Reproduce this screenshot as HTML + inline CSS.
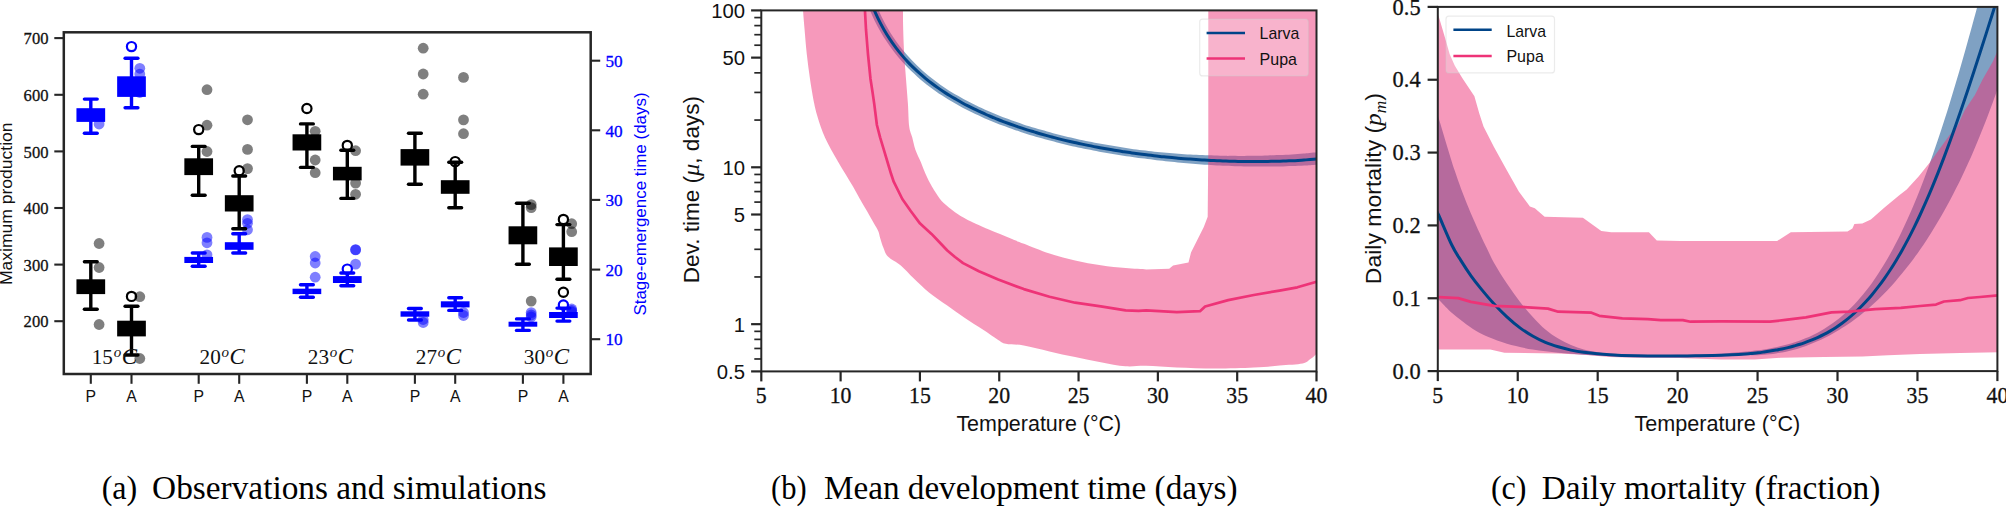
<!DOCTYPE html>
<html lang="en"><head><meta charset="utf-8"><title>Figure</title>
<style>html,body{margin:0;padding:0;background:#fff;overflow:hidden}svg{display:block}</style>
</head><body>
<svg width="2006" height="507" viewBox="0 0 2006 507" style="display:block">
<rect width="2006" height="507" fill="#fff"/>
<g id="panelA">
<circle cx="99.1" cy="243.5" r="5.4" fill="#000" fill-opacity="0.5"/>
<circle cx="99.1" cy="267.5" r="5.4" fill="#000" fill-opacity="0.5"/>
<circle cx="99.1" cy="324.5" r="5.4" fill="#000" fill-opacity="0.5"/>
<circle cx="139.8" cy="296.7" r="5.4" fill="#000" fill-opacity="0.5"/>
<circle cx="139.8" cy="358.5" r="5.4" fill="#000" fill-opacity="0.5"/>
<circle cx="207" cy="89.7" r="5.4" fill="#000" fill-opacity="0.5"/>
<circle cx="207" cy="125.2" r="5.4" fill="#000" fill-opacity="0.5"/>
<circle cx="207" cy="151.5" r="5.4" fill="#000" fill-opacity="0.5"/>
<circle cx="247.5" cy="119.8" r="5.4" fill="#000" fill-opacity="0.5"/>
<circle cx="247.5" cy="149.4" r="5.4" fill="#000" fill-opacity="0.5"/>
<circle cx="247.5" cy="168.6" r="5.4" fill="#000" fill-opacity="0.5"/>
<circle cx="315.2" cy="131.3" r="5.4" fill="#000" fill-opacity="0.5"/>
<circle cx="315.2" cy="160" r="5.4" fill="#000" fill-opacity="0.5"/>
<circle cx="315.2" cy="172.7" r="5.4" fill="#000" fill-opacity="0.5"/>
<circle cx="355.6" cy="150.7" r="5.4" fill="#000" fill-opacity="0.5"/>
<circle cx="355.6" cy="183.1" r="5.4" fill="#000" fill-opacity="0.5"/>
<circle cx="355.6" cy="194.3" r="5.4" fill="#000" fill-opacity="0.5"/>
<circle cx="423.2" cy="48.2" r="5.4" fill="#000" fill-opacity="0.5"/>
<circle cx="423.2" cy="74" r="5.4" fill="#000" fill-opacity="0.5"/>
<circle cx="423.2" cy="94.2" r="5.4" fill="#000" fill-opacity="0.5"/>
<circle cx="463.5" cy="77.4" r="5.4" fill="#000" fill-opacity="0.5"/>
<circle cx="463.5" cy="119.9" r="5.4" fill="#000" fill-opacity="0.5"/>
<circle cx="463.5" cy="133.7" r="5.4" fill="#000" fill-opacity="0.5"/>
<circle cx="531.2" cy="204.6" r="5.4" fill="#000" fill-opacity="0.5"/>
<circle cx="531.2" cy="207.6" r="5.4" fill="#000" fill-opacity="0.5"/>
<circle cx="571.7" cy="223.7" r="5.4" fill="#000" fill-opacity="0.5"/>
<circle cx="571.7" cy="231.7" r="5.4" fill="#000" fill-opacity="0.5"/>
<circle cx="99.1" cy="124" r="5.4" fill="#0000ff" fill-opacity="0.5"/>
<circle cx="139.8" cy="68.3" r="5.4" fill="#0000ff" fill-opacity="0.5"/>
<circle cx="139.8" cy="74.1" r="5.4" fill="#0000ff" fill-opacity="0.5"/>
<circle cx="139.8" cy="92.5" r="5.4" fill="#0000ff" fill-opacity="0.5"/>
<circle cx="207" cy="237.4" r="5.4" fill="#0000ff" fill-opacity="0.5"/>
<circle cx="207" cy="242.8" r="5.4" fill="#0000ff" fill-opacity="0.5"/>
<circle cx="207" cy="254.8" r="5.4" fill="#0000ff" fill-opacity="0.5"/>
<circle cx="247.5" cy="219.6" r="5.4" fill="#0000ff" fill-opacity="0.5"/>
<circle cx="247.5" cy="223.3" r="5.4" fill="#0000ff" fill-opacity="0.5"/>
<circle cx="247.5" cy="229.8" r="5.4" fill="#0000ff" fill-opacity="0.5"/>
<circle cx="315.2" cy="256.5" r="5.4" fill="#0000ff" fill-opacity="0.5"/>
<circle cx="315.2" cy="263" r="5.4" fill="#0000ff" fill-opacity="0.5"/>
<circle cx="315.2" cy="277.2" r="5.4" fill="#0000ff" fill-opacity="0.5"/>
<circle cx="355.6" cy="249.6" r="5.4" fill="#0000ff" fill-opacity="0.5"/>
<circle cx="355.6" cy="249.9" r="5.4" fill="#0000ff" fill-opacity="0.5"/>
<circle cx="355.6" cy="264.1" r="5.4" fill="#0000ff" fill-opacity="0.5"/>
<circle cx="423.2" cy="319.5" r="5.4" fill="#0000ff" fill-opacity="0.5"/>
<circle cx="423.2" cy="322.5" r="5.4" fill="#0000ff" fill-opacity="0.5"/>
<circle cx="463.5" cy="312.5" r="5.4" fill="#0000ff" fill-opacity="0.5"/>
<circle cx="463.5" cy="315.5" r="5.4" fill="#0000ff" fill-opacity="0.5"/>
<circle cx="531.2" cy="312.6" r="5.4" fill="#0000ff" fill-opacity="0.5"/>
<circle cx="531.2" cy="315" r="5.4" fill="#0000ff" fill-opacity="0.5"/>
<circle cx="531.2" cy="317" r="5.4" fill="#0000ff" fill-opacity="0.5"/>
<circle cx="571.7" cy="309" r="5.4" fill="#0000ff" fill-opacity="0.5"/>
<circle cx="571.7" cy="310.5" r="5.4" fill="#0000ff" fill-opacity="0.5"/>
<circle cx="571.7" cy="312" r="5.4" fill="#0000ff" fill-opacity="0.5"/>
<circle cx="531.2" cy="301.1" r="5.4" fill="#000" fill-opacity="0.5"/>
<line x1="90.8" y1="261.8" x2="90.8" y2="309.2" stroke="#000" stroke-width="3.4" stroke-linecap="butt" />
<line x1="84.4" y1="261.8" x2="97.2" y2="261.8" stroke="#000" stroke-width="3.4" stroke-linecap="round" />
<line x1="84.4" y1="309.2" x2="97.2" y2="309.2" stroke="#000" stroke-width="3.4" stroke-linecap="round" />
<rect x="76.45" y="279.3" width="28.7" height="14.8" fill="#000"/>
<line x1="131.5" y1="306.2" x2="131.5" y2="355" stroke="#000" stroke-width="3.4" stroke-linecap="butt" />
<line x1="125.1" y1="306.2" x2="137.9" y2="306.2" stroke="#000" stroke-width="3.4" stroke-linecap="round" />
<line x1="125.1" y1="355" x2="137.9" y2="355" stroke="#000" stroke-width="3.4" stroke-linecap="round" />
<rect x="117.15" y="320.7" width="28.7" height="15.7" fill="#000"/>
<line x1="198.7" y1="146.4" x2="198.7" y2="195.2" stroke="#000" stroke-width="3.4" stroke-linecap="butt" />
<line x1="192.3" y1="146.4" x2="205.1" y2="146.4" stroke="#000" stroke-width="3.4" stroke-linecap="round" />
<line x1="192.3" y1="195.2" x2="205.1" y2="195.2" stroke="#000" stroke-width="3.4" stroke-linecap="round" />
<rect x="184.35" y="158.3" width="28.7" height="16.8" fill="#000"/>
<line x1="239.2" y1="176" x2="239.2" y2="228.7" stroke="#000" stroke-width="3.4" stroke-linecap="butt" />
<line x1="232.8" y1="176" x2="245.6" y2="176" stroke="#000" stroke-width="3.4" stroke-linecap="round" />
<line x1="232.8" y1="228.7" x2="245.6" y2="228.7" stroke="#000" stroke-width="3.4" stroke-linecap="round" />
<rect x="224.85" y="195.2" width="28.7" height="16.3" fill="#000"/>
<line x1="306.9" y1="123.9" x2="306.9" y2="167.4" stroke="#000" stroke-width="3.4" stroke-linecap="butt" />
<line x1="300.5" y1="123.9" x2="313.3" y2="123.9" stroke="#000" stroke-width="3.4" stroke-linecap="round" />
<line x1="300.5" y1="167.4" x2="313.3" y2="167.4" stroke="#000" stroke-width="3.4" stroke-linecap="round" />
<rect x="292.55" y="134.3" width="28.7" height="16.2" fill="#000"/>
<line x1="347.3" y1="150.2" x2="347.3" y2="198.4" stroke="#000" stroke-width="3.4" stroke-linecap="butt" />
<line x1="340.9" y1="150.2" x2="353.7" y2="150.2" stroke="#000" stroke-width="3.4" stroke-linecap="round" />
<line x1="340.9" y1="198.4" x2="353.7" y2="198.4" stroke="#000" stroke-width="3.4" stroke-linecap="round" />
<rect x="332.95" y="166.8" width="28.7" height="13.6" fill="#000"/>
<line x1="414.9" y1="133.2" x2="414.9" y2="184.3" stroke="#000" stroke-width="3.4" stroke-linecap="butt" />
<line x1="408.5" y1="133.2" x2="421.3" y2="133.2" stroke="#000" stroke-width="3.4" stroke-linecap="round" />
<line x1="408.5" y1="184.3" x2="421.3" y2="184.3" stroke="#000" stroke-width="3.4" stroke-linecap="round" />
<rect x="400.55" y="149.1" width="28.7" height="16.5" fill="#000"/>
<line x1="455.2" y1="162.2" x2="455.2" y2="207.7" stroke="#000" stroke-width="3.4" stroke-linecap="butt" />
<line x1="448.8" y1="162.2" x2="461.6" y2="162.2" stroke="#000" stroke-width="3.4" stroke-linecap="round" />
<line x1="448.8" y1="207.7" x2="461.6" y2="207.7" stroke="#000" stroke-width="3.4" stroke-linecap="round" />
<rect x="440.85" y="180.2" width="28.7" height="13.6" fill="#000"/>
<line x1="522.9" y1="203.3" x2="522.9" y2="264.3" stroke="#000" stroke-width="3.4" stroke-linecap="butt" />
<line x1="516.5" y1="203.3" x2="529.3" y2="203.3" stroke="#000" stroke-width="3.4" stroke-linecap="round" />
<line x1="516.5" y1="264.3" x2="529.3" y2="264.3" stroke="#000" stroke-width="3.4" stroke-linecap="round" />
<rect x="508.55" y="226.3" width="28.7" height="18" fill="#000"/>
<line x1="563.4" y1="224.6" x2="563.4" y2="279.2" stroke="#000" stroke-width="3.4" stroke-linecap="butt" />
<line x1="557" y1="224.6" x2="569.8" y2="224.6" stroke="#000" stroke-width="3.4" stroke-linecap="round" />
<line x1="557" y1="279.2" x2="569.8" y2="279.2" stroke="#000" stroke-width="3.4" stroke-linecap="round" />
<rect x="549.05" y="247.4" width="28.7" height="18.6" fill="#000"/>
<circle cx="131.5" cy="296.4" r="4.6" fill="none" stroke="#000" stroke-width="2.2"/>
<circle cx="198.7" cy="129.6" r="4.6" fill="none" stroke="#000" stroke-width="2.2"/>
<circle cx="239.2" cy="170.7" r="4.6" fill="none" stroke="#000" stroke-width="2.2"/>
<circle cx="306.9" cy="108.5" r="4.6" fill="none" stroke="#000" stroke-width="2.2"/>
<circle cx="347.3" cy="145.4" r="4.6" fill="none" stroke="#000" stroke-width="2.2"/>
<circle cx="455.2" cy="161.6" r="4.6" fill="none" stroke="#000" stroke-width="2.2"/>
<circle cx="563.4" cy="219.4" r="4.6" fill="none" stroke="#000" stroke-width="2.2"/>
<circle cx="563.4" cy="292.3" r="4.6" fill="none" stroke="#000" stroke-width="2.2"/>
<line x1="90.8" y1="99.1" x2="90.8" y2="133.2" stroke="#0000ff" stroke-width="3.4" stroke-linecap="butt" />
<line x1="84.4" y1="99.1" x2="97.2" y2="99.1" stroke="#0000ff" stroke-width="3.4" stroke-linecap="round" />
<line x1="84.4" y1="133.2" x2="97.2" y2="133.2" stroke="#0000ff" stroke-width="3.4" stroke-linecap="round" />
<rect x="76.45" y="108.2" width="28.7" height="13.7" fill="#0000ff"/>
<line x1="131.5" y1="58.3" x2="131.5" y2="107.8" stroke="#0000ff" stroke-width="3.4" stroke-linecap="butt" />
<line x1="125.1" y1="58.3" x2="137.9" y2="58.3" stroke="#0000ff" stroke-width="3.4" stroke-linecap="round" />
<line x1="125.1" y1="107.8" x2="137.9" y2="107.8" stroke="#0000ff" stroke-width="3.4" stroke-linecap="round" />
<rect x="117.15" y="76.3" width="28.7" height="20.6" fill="#0000ff"/>
<line x1="198.7" y1="253" x2="198.7" y2="266.3" stroke="#0000ff" stroke-width="3.4" stroke-linecap="butt" />
<line x1="192.3" y1="253" x2="205.1" y2="253" stroke="#0000ff" stroke-width="3.4" stroke-linecap="round" />
<line x1="192.3" y1="266.3" x2="205.1" y2="266.3" stroke="#0000ff" stroke-width="3.4" stroke-linecap="round" />
<rect x="184.35" y="256.9" width="28.7" height="6.1" fill="#0000ff"/>
<line x1="239.2" y1="233.7" x2="239.2" y2="253" stroke="#0000ff" stroke-width="3.4" stroke-linecap="butt" />
<line x1="232.8" y1="233.7" x2="245.6" y2="233.7" stroke="#0000ff" stroke-width="3.4" stroke-linecap="round" />
<line x1="232.8" y1="253" x2="245.6" y2="253" stroke="#0000ff" stroke-width="3.4" stroke-linecap="round" />
<rect x="224.85" y="242.2" width="28.7" height="7.6" fill="#0000ff"/>
<line x1="306.9" y1="284.8" x2="306.9" y2="297.3" stroke="#0000ff" stroke-width="3.4" stroke-linecap="butt" />
<line x1="300.5" y1="284.8" x2="313.3" y2="284.8" stroke="#0000ff" stroke-width="3.4" stroke-linecap="round" />
<line x1="300.5" y1="297.3" x2="313.3" y2="297.3" stroke="#0000ff" stroke-width="3.4" stroke-linecap="round" />
<rect x="292.55" y="288.7" width="28.7" height="5.4" fill="#0000ff"/>
<line x1="347.3" y1="273" x2="347.3" y2="285.8" stroke="#0000ff" stroke-width="3.4" stroke-linecap="butt" />
<line x1="340.9" y1="273" x2="353.7" y2="273" stroke="#0000ff" stroke-width="3.4" stroke-linecap="round" />
<line x1="340.9" y1="285.8" x2="353.7" y2="285.8" stroke="#0000ff" stroke-width="3.4" stroke-linecap="round" />
<rect x="332.95" y="276.1" width="28.7" height="6.9" fill="#0000ff"/>
<line x1="414.9" y1="308.5" x2="414.9" y2="320" stroke="#0000ff" stroke-width="3.4" stroke-linecap="butt" />
<line x1="408.5" y1="308.5" x2="421.3" y2="308.5" stroke="#0000ff" stroke-width="3.4" stroke-linecap="round" />
<line x1="408.5" y1="320" x2="421.3" y2="320" stroke="#0000ff" stroke-width="3.4" stroke-linecap="round" />
<rect x="400.55" y="311.3" width="28.7" height="5.4" fill="#0000ff"/>
<line x1="455.2" y1="297.8" x2="455.2" y2="310.4" stroke="#0000ff" stroke-width="3.4" stroke-linecap="butt" />
<line x1="448.8" y1="297.8" x2="461.6" y2="297.8" stroke="#0000ff" stroke-width="3.4" stroke-linecap="round" />
<line x1="448.8" y1="310.4" x2="461.6" y2="310.4" stroke="#0000ff" stroke-width="3.4" stroke-linecap="round" />
<rect x="440.85" y="301.3" width="28.7" height="6.1" fill="#0000ff"/>
<line x1="522.9" y1="318.9" x2="522.9" y2="330.4" stroke="#0000ff" stroke-width="3.4" stroke-linecap="butt" />
<line x1="516.5" y1="318.9" x2="529.3" y2="318.9" stroke="#0000ff" stroke-width="3.4" stroke-linecap="round" />
<line x1="516.5" y1="330.4" x2="529.3" y2="330.4" stroke="#0000ff" stroke-width="3.4" stroke-linecap="round" />
<rect x="508.55" y="321.7" width="28.7" height="5" fill="#0000ff"/>
<line x1="563.4" y1="308.1" x2="563.4" y2="321.1" stroke="#0000ff" stroke-width="3.4" stroke-linecap="butt" />
<line x1="557" y1="308.1" x2="569.8" y2="308.1" stroke="#0000ff" stroke-width="3.4" stroke-linecap="round" />
<line x1="557" y1="321.1" x2="569.8" y2="321.1" stroke="#0000ff" stroke-width="3.4" stroke-linecap="round" />
<rect x="549.05" y="312" width="28.7" height="6" fill="#0000ff"/>
<circle cx="131.5" cy="46.6" r="4.6" fill="none" stroke="#0000ff" stroke-width="2.2"/>
<circle cx="347.3" cy="269.1" r="4.6" fill="none" stroke="#0000ff" stroke-width="2.2"/>
<circle cx="563.4" cy="305" r="4.6" fill="none" stroke="#0000ff" stroke-width="2.2"/>
<text x="91.7" y="364.4" font-family="'Liberation Serif', 'DejaVu Serif', serif" font-size="21.4" fill="#111"><tspan textLength="21.2" lengthAdjust="spacingAndGlyphs">15</tspan><tspan font-style="italic" font-size="15" dy="-7.6" dx="0.8">o</tspan><tspan font-style="italic" font-size="23" dy="7.6" dx="0.5">C</tspan></text>
<text x="199.6" y="364.4" font-family="'Liberation Serif', 'DejaVu Serif', serif" font-size="21.4" fill="#111"><tspan textLength="21.2" lengthAdjust="spacingAndGlyphs">20</tspan><tspan font-style="italic" font-size="15" dy="-7.6" dx="0.8">o</tspan><tspan font-style="italic" font-size="23" dy="7.6" dx="0.5">C</tspan></text>
<text x="307.8" y="364.4" font-family="'Liberation Serif', 'DejaVu Serif', serif" font-size="21.4" fill="#111"><tspan textLength="21.2" lengthAdjust="spacingAndGlyphs">23</tspan><tspan font-style="italic" font-size="15" dy="-7.6" dx="0.8">o</tspan><tspan font-style="italic" font-size="23" dy="7.6" dx="0.5">C</tspan></text>
<text x="415.8" y="364.4" font-family="'Liberation Serif', 'DejaVu Serif', serif" font-size="21.4" fill="#111"><tspan textLength="21.2" lengthAdjust="spacingAndGlyphs">27</tspan><tspan font-style="italic" font-size="15" dy="-7.6" dx="0.8">o</tspan><tspan font-style="italic" font-size="23" dy="7.6" dx="0.5">C</tspan></text>
<text x="523.8" y="364.4" font-family="'Liberation Serif', 'DejaVu Serif', serif" font-size="21.4" fill="#111"><tspan textLength="21.2" lengthAdjust="spacingAndGlyphs">30</tspan><tspan font-style="italic" font-size="15" dy="-7.6" dx="0.8">o</tspan><tspan font-style="italic" font-size="23" dy="7.6" dx="0.5">C</tspan></text>
<rect x="63.8" y="32.3" width="526.9" height="341.7" fill="none" stroke="#262626" stroke-width="2.5"/>
<line x1="54.3" y1="38.1" x2="63.8" y2="38.1" stroke="#262626" stroke-width="2.1" stroke-linecap="butt" />
<text x="48.5" y="44.3" font-family="'Liberation Serif', 'DejaVu Serif', serif" font-size="17.6" fill="#111" text-anchor="end" textLength="24.9" lengthAdjust="spacingAndGlyphs" stroke="#111" stroke-width="0.3">700</text>
<line x1="54.3" y1="94.8" x2="63.8" y2="94.8" stroke="#262626" stroke-width="2.1" stroke-linecap="butt" />
<text x="48.5" y="101" font-family="'Liberation Serif', 'DejaVu Serif', serif" font-size="17.6" fill="#111" text-anchor="end" textLength="24.9" lengthAdjust="spacingAndGlyphs" stroke="#111" stroke-width="0.3">600</text>
<line x1="54.3" y1="151.4" x2="63.8" y2="151.4" stroke="#262626" stroke-width="2.1" stroke-linecap="butt" />
<text x="48.5" y="157.6" font-family="'Liberation Serif', 'DejaVu Serif', serif" font-size="17.6" fill="#111" text-anchor="end" textLength="24.9" lengthAdjust="spacingAndGlyphs" stroke="#111" stroke-width="0.3">500</text>
<line x1="54.3" y1="208" x2="63.8" y2="208" stroke="#262626" stroke-width="2.1" stroke-linecap="butt" />
<text x="48.5" y="214.2" font-family="'Liberation Serif', 'DejaVu Serif', serif" font-size="17.6" fill="#111" text-anchor="end" textLength="24.9" lengthAdjust="spacingAndGlyphs" stroke="#111" stroke-width="0.3">400</text>
<line x1="54.3" y1="264.6" x2="63.8" y2="264.6" stroke="#262626" stroke-width="2.1" stroke-linecap="butt" />
<text x="48.5" y="270.8" font-family="'Liberation Serif', 'DejaVu Serif', serif" font-size="17.6" fill="#111" text-anchor="end" textLength="24.9" lengthAdjust="spacingAndGlyphs" stroke="#111" stroke-width="0.3">300</text>
<line x1="54.3" y1="321.2" x2="63.8" y2="321.2" stroke="#262626" stroke-width="2.1" stroke-linecap="butt" />
<text x="48.5" y="327.4" font-family="'Liberation Serif', 'DejaVu Serif', serif" font-size="17.6" fill="#111" text-anchor="end" textLength="24.9" lengthAdjust="spacingAndGlyphs" stroke="#111" stroke-width="0.3">200</text>
<line x1="590.7" y1="60.7" x2="600.2" y2="60.7" stroke="#262626" stroke-width="2.1" stroke-linecap="butt" />
<text x="605.4" y="66.9" font-family="'Liberation Serif', 'DejaVu Serif', serif" font-size="17.6" fill="#0000ff" text-anchor="start" textLength="17.2" lengthAdjust="spacingAndGlyphs" stroke="#0000ff" stroke-width="0.3">50</text>
<line x1="590.7" y1="130.3" x2="600.2" y2="130.3" stroke="#262626" stroke-width="2.1" stroke-linecap="butt" />
<text x="605.4" y="136.5" font-family="'Liberation Serif', 'DejaVu Serif', serif" font-size="17.6" fill="#0000ff" text-anchor="start" textLength="17.2" lengthAdjust="spacingAndGlyphs" stroke="#0000ff" stroke-width="0.3">40</text>
<line x1="590.7" y1="199.9" x2="600.2" y2="199.9" stroke="#262626" stroke-width="2.1" stroke-linecap="butt" />
<text x="605.4" y="206.1" font-family="'Liberation Serif', 'DejaVu Serif', serif" font-size="17.6" fill="#0000ff" text-anchor="start" textLength="17.2" lengthAdjust="spacingAndGlyphs" stroke="#0000ff" stroke-width="0.3">30</text>
<line x1="590.7" y1="269.6" x2="600.2" y2="269.6" stroke="#262626" stroke-width="2.1" stroke-linecap="butt" />
<text x="605.4" y="275.8" font-family="'Liberation Serif', 'DejaVu Serif', serif" font-size="17.6" fill="#0000ff" text-anchor="start" textLength="17.2" lengthAdjust="spacingAndGlyphs" stroke="#0000ff" stroke-width="0.3">20</text>
<line x1="590.7" y1="339.2" x2="600.2" y2="339.2" stroke="#262626" stroke-width="2.1" stroke-linecap="butt" />
<text x="605.4" y="345.4" font-family="'Liberation Serif', 'DejaVu Serif', serif" font-size="17.6" fill="#0000ff" text-anchor="start" textLength="17.2" lengthAdjust="spacingAndGlyphs" stroke="#0000ff" stroke-width="0.3">10</text>
<line x1="90.8" y1="374" x2="90.8" y2="383.8" stroke="#262626" stroke-width="2.1" stroke-linecap="butt" />
<text x="90.8" y="401.6" font-family="'Liberation Sans', 'DejaVu Sans', sans-serif" font-size="15.8" fill="#111" text-anchor="middle" >P</text>
<line x1="198.7" y1="374" x2="198.7" y2="383.8" stroke="#262626" stroke-width="2.1" stroke-linecap="butt" />
<text x="198.7" y="401.6" font-family="'Liberation Sans', 'DejaVu Sans', sans-serif" font-size="15.8" fill="#111" text-anchor="middle" >P</text>
<line x1="306.9" y1="374" x2="306.9" y2="383.8" stroke="#262626" stroke-width="2.1" stroke-linecap="butt" />
<text x="306.9" y="401.6" font-family="'Liberation Sans', 'DejaVu Sans', sans-serif" font-size="15.8" fill="#111" text-anchor="middle" >P</text>
<line x1="414.9" y1="374" x2="414.9" y2="383.8" stroke="#262626" stroke-width="2.1" stroke-linecap="butt" />
<text x="414.9" y="401.6" font-family="'Liberation Sans', 'DejaVu Sans', sans-serif" font-size="15.8" fill="#111" text-anchor="middle" >P</text>
<line x1="522.9" y1="374" x2="522.9" y2="383.8" stroke="#262626" stroke-width="2.1" stroke-linecap="butt" />
<text x="522.9" y="401.6" font-family="'Liberation Sans', 'DejaVu Sans', sans-serif" font-size="15.8" fill="#111" text-anchor="middle" >P</text>
<line x1="131.5" y1="374" x2="131.5" y2="383.8" stroke="#262626" stroke-width="2.1" stroke-linecap="butt" />
<text x="131.5" y="401.6" font-family="'Liberation Sans', 'DejaVu Sans', sans-serif" font-size="15.8" fill="#111" text-anchor="middle" >A</text>
<line x1="239.2" y1="374" x2="239.2" y2="383.8" stroke="#262626" stroke-width="2.1" stroke-linecap="butt" />
<text x="239.2" y="401.6" font-family="'Liberation Sans', 'DejaVu Sans', sans-serif" font-size="15.8" fill="#111" text-anchor="middle" >A</text>
<line x1="347.3" y1="374" x2="347.3" y2="383.8" stroke="#262626" stroke-width="2.1" stroke-linecap="butt" />
<text x="347.3" y="401.6" font-family="'Liberation Sans', 'DejaVu Sans', sans-serif" font-size="15.8" fill="#111" text-anchor="middle" >A</text>
<line x1="455.2" y1="374" x2="455.2" y2="383.8" stroke="#262626" stroke-width="2.1" stroke-linecap="butt" />
<text x="455.2" y="401.6" font-family="'Liberation Sans', 'DejaVu Sans', sans-serif" font-size="15.8" fill="#111" text-anchor="middle" >A</text>
<line x1="563.4" y1="374" x2="563.4" y2="383.8" stroke="#262626" stroke-width="2.1" stroke-linecap="butt" />
<text x="563.4" y="401.6" font-family="'Liberation Sans', 'DejaVu Sans', sans-serif" font-size="15.8" fill="#111" text-anchor="middle" >A</text>
<text x="11.8" y="285" font-family="'Liberation Sans', 'DejaVu Sans', sans-serif" font-size="16.6" fill="#111" text-anchor="start" textLength="162.5" lengthAdjust="spacingAndGlyphs" transform="rotate(-90 11.8 285)" >Maximum production</text>
<text x="645.6" y="315.6" font-family="'Liberation Sans', 'DejaVu Sans', sans-serif" font-size="16.6" fill="#0000ff" text-anchor="start" textLength="223.2" lengthAdjust="spacingAndGlyphs" transform="rotate(-90 645.6 315.6)" >Stage-emergence time (days)</text>
</g>
<g id="panelB">
<clipPath id="clipB"><rect x="761.3" y="10.4" width="555.2" height="361"/></clipPath>
<g clip-path="url(#clipB)">
<path d="M869.78 -13.92C870.77 -11.07 873.76 -1.94 875.73 3.16C877.7 8.25 879.65 12.58 881.61 16.67C883.57 20.77 885.52 24.29 887.47 27.72C889.43 31.14 891.38 34.23 893.34 37.2C895.29 40.16 897.25 42.9 899.2 45.5C901.15 48.1 903.1 50.51 905.06 52.82C907.01 55.13 908.96 57.28 910.92 59.36C912.87 61.45 914.83 63.43 916.78 65.32C918.74 67.21 920.69 68.97 922.65 70.7C924.61 72.43 926.57 74.1 928.53 75.7C930.49 77.3 932.45 78.82 934.42 80.31C936.38 81.8 938.35 83.24 940.31 84.64C942.28 86.03 944.24 87.37 946.2 88.66C948.16 89.95 950.11 91.19 952.08 92.38C954.04 93.58 956.02 94.7 957.99 95.83C959.97 96.97 961.95 98.11 963.93 99.2C965.9 100.28 967.87 101.33 969.84 102.35C971.8 103.36 973.76 104.34 975.74 105.3C977.72 106.25 979.71 107.15 981.69 108.08C983.67 109 985.64 109.97 987.62 110.84C989.59 111.71 991.56 112.48 993.54 113.31C995.52 114.13 997.51 114.99 999.49 115.79C1001.46 116.58 1003.43 117.31 1005.4 118.05C1007.38 118.8 1009.36 119.52 1011.35 120.23C1013.34 120.95 1015.34 121.63 1017.32 122.32C1019.31 123.02 1021.29 123.75 1023.26 124.41C1025.24 125.06 1027.2 125.67 1029.18 126.28C1031.16 126.89 1033.16 127.47 1035.15 128.07C1037.14 128.67 1039.13 129.28 1041.12 129.86C1043.11 130.44 1045.08 131 1047.06 131.54C1049.05 132.09 1051.04 132.6 1053.03 133.14C1055.02 133.67 1057.02 134.21 1059 134.73C1060.99 135.24 1062.96 135.73 1064.94 136.21C1066.92 136.69 1068.89 137.15 1070.88 137.6C1072.86 138.04 1074.85 138.46 1076.85 138.89C1078.84 139.32 1080.85 139.76 1082.85 140.19C1084.84 140.62 1086.83 141.07 1088.82 141.48C1090.8 141.9 1092.77 142.29 1094.75 142.67C1096.74 143.05 1098.73 143.4 1100.72 143.77C1102.71 144.13 1104.7 144.51 1106.69 144.86C1108.68 145.21 1110.67 145.52 1112.66 145.85C1114.65 146.19 1116.64 146.53 1118.63 146.85C1120.61 147.16 1122.6 147.45 1124.59 147.74C1126.59 148.04 1128.6 148.35 1130.59 148.64C1132.59 148.94 1134.58 149.26 1136.56 149.54C1138.54 149.82 1140.51 150.08 1142.5 150.33C1144.48 150.58 1146.47 150.81 1148.46 151.03C1150.46 151.25 1152.47 151.46 1154.47 151.66C1156.47 151.87 1158.46 152.08 1160.45 152.26C1162.44 152.44 1164.43 152.59 1166.42 152.76C1168.42 152.93 1170.44 153.1 1172.43 153.26C1174.43 153.43 1176.42 153.61 1178.41 153.76C1180.39 153.91 1182.36 154.04 1184.34 154.16C1186.32 154.28 1188.31 154.36 1190.31 154.46C1192.31 154.56 1194.31 154.66 1196.32 154.76C1198.32 154.86 1200.33 154.96 1202.32 155.06C1204.32 155.17 1206.31 155.28 1208.29 155.37C1210.27 155.45 1212.22 155.51 1214.21 155.56C1216.2 155.61 1218.22 155.62 1220.21 155.67C1222.21 155.72 1224.19 155.83 1226.17 155.87C1228.16 155.9 1230.14 155.85 1232.13 155.87C1234.13 155.89 1236.15 155.95 1238.14 155.97C1240.12 155.99 1242.07 155.99 1244.05 155.97C1246.02 155.96 1248.01 155.91 1250 155.87C1251.99 155.84 1254.01 155.81 1256 155.78C1257.99 155.74 1259.97 155.73 1261.95 155.68C1263.94 155.63 1265.91 155.55 1267.9 155.48C1269.89 155.42 1271.92 155.35 1273.9 155.28C1275.88 155.22 1277.82 155.19 1279.8 155.09C1281.77 154.99 1283.75 154.81 1285.74 154.69C1287.73 154.58 1289.76 154.51 1291.74 154.4C1293.72 154.28 1295.66 154.15 1297.63 154C1299.6 153.86 1301.58 153.67 1303.57 153.51C1305.55 153.34 1307.21 153.22 1309.53 153.01C1311.85 152.81 1316.17 152.41 1317.5 152.29L1318.42 164.6C1317.08 164.69 1312.74 164.98 1310.39 165.13C1308.05 165.27 1306.38 165.36 1304.36 165.47C1302.35 165.59 1300.34 165.72 1298.32 165.82C1296.29 165.92 1294.24 166 1292.22 166.06C1290.21 166.13 1288.23 166.14 1286.22 166.21C1284.21 166.27 1282.2 166.4 1280.18 166.45C1278.15 166.5 1276.1 166.48 1274.09 166.49C1272.07 166.51 1270.09 166.52 1268.09 166.54C1266.08 166.55 1264.06 166.58 1262.04 166.58C1260.03 166.58 1258.01 166.54 1256 166.52C1253.99 166.5 1252.01 166.48 1250 166.46C1247.99 166.44 1245.98 166.44 1243.96 166.41C1241.94 166.37 1239.89 166.32 1237.88 166.25C1235.87 166.18 1233.89 166.06 1231.88 165.99C1229.87 165.92 1227.85 165.92 1225.84 165.83C1223.83 165.74 1221.81 165.57 1219.81 165.47C1217.8 165.37 1215.82 165.32 1213.81 165.21C1211.8 165.11 1209.75 164.99 1207.73 164.85C1205.72 164.71 1203.71 164.54 1201.7 164.39C1199.7 164.24 1197.7 164.09 1195.7 163.93C1193.71 163.78 1191.71 163.63 1189.71 163.48C1187.7 163.32 1185.69 163.19 1183.68 163.02C1181.66 162.84 1179.63 162.66 1177.61 162.45C1175.59 162.25 1173.58 162.01 1171.58 161.79C1169.58 161.57 1167.59 161.35 1165.59 161.13C1163.58 160.91 1161.57 160.71 1159.56 160.47C1157.55 160.24 1155.54 159.96 1153.53 159.71C1151.53 159.46 1149.54 159.21 1147.54 158.97C1145.53 158.73 1143.52 158.52 1141.5 158.27C1139.49 158.02 1137.46 157.75 1135.44 157.46C1133.42 157.17 1131.41 156.86 1129.41 156.56C1127.4 156.25 1125.41 155.96 1123.41 155.66C1121.4 155.35 1119.39 155.07 1117.37 154.75C1115.36 154.43 1113.35 154.08 1111.34 153.75C1109.33 153.41 1107.32 153.09 1105.31 152.74C1103.3 152.39 1101.29 152 1099.28 151.63C1097.27 151.27 1095.26 150.91 1093.25 150.53C1091.23 150.14 1089.2 149.74 1087.18 149.32C1085.17 148.9 1083.16 148.44 1081.15 148.01C1079.15 147.57 1077.16 147.14 1075.15 146.71C1073.15 146.27 1071.14 145.86 1069.12 145.4C1067.11 144.95 1065.08 144.48 1063.06 143.99C1061.04 143.5 1059.01 142.99 1057 142.47C1054.98 141.95 1052.98 141.4 1050.97 140.86C1048.96 140.33 1046.95 139.81 1044.94 139.26C1042.92 138.7 1040.89 138.13 1038.88 137.54C1036.87 136.95 1034.86 136.33 1032.85 135.73C1030.84 135.13 1028.84 134.55 1026.82 133.92C1024.8 133.3 1022.76 132.67 1020.74 131.99C1018.71 131.32 1016.69 130.58 1014.68 129.88C1012.66 129.17 1010.66 128.49 1008.65 127.77C1006.64 127.04 1004.62 126.3 1002.6 125.55C1000.57 124.79 998.54 124.02 996.51 123.21C994.49 122.41 992.48 121.53 990.46 120.69C988.44 119.85 986.41 119.05 984.38 118.16C982.36 117.26 980.33 116.27 978.31 115.32C976.29 114.38 974.28 113.48 972.26 112.5C970.24 111.52 968.2 110.5 966.16 109.45C964.13 108.4 962.1 107.32 960.07 106.2C958.05 105.09 956.03 103.93 954.01 102.77C951.98 101.6 949.96 100.46 947.92 99.22C945.89 97.98 943.84 96.68 941.8 95.34C939.76 94 937.72 92.61 935.69 91.16C933.65 89.72 931.62 88.23 929.58 86.69C927.55 85.14 925.51 83.56 923.47 81.9C921.43 80.23 919.39 78.5 917.35 76.7C915.31 74.89 913.26 73.05 911.22 71.08C909.17 69.1 907.13 67.02 905.08 64.84C903.04 62.65 900.99 60.4 898.94 57.98C896.9 55.56 894.85 53.03 892.8 50.3C890.75 47.57 888.71 44.7 886.66 41.6C884.62 38.5 882.57 35.26 880.53 31.68C878.48 28.11 876.43 24.4 874.39 20.13C872.35 15.85 870.3 11.28 868.27 6.04C866.24 0.81 863.23 -8.39 862.22 -11.28Z" fill="#004488" fill-opacity="0.5"/>
<path d="M802.6 0C802.68 1.87 802.77 6.25 803.1 11.2C803.43 16.15 803.98 22.52 804.6 29.7C805.22 36.88 805.9 46.08 806.8 54.3C807.7 62.52 808.77 70.78 810 79C811.23 87.22 812.98 97.43 814.2 103.6C815.42 109.77 816.2 112.1 817.3 116C818.4 119.9 819.48 123.33 820.8 127C822.12 130.67 823.47 134.22 825.2 138C826.93 141.78 829.03 145.7 831.2 149.7C833.37 153.7 835.8 157.9 838.2 162C840.6 166.1 843.13 170.2 845.6 174.3C848.07 178.4 850.62 182.48 853 186.6C855.38 190.72 857.55 194.88 859.9 199C862.25 203.12 864.75 207.2 867.1 211.3C869.45 215.4 872.15 220.32 874 223.6C875.85 226.88 877.15 228.53 878.2 231C879.25 233.47 879.42 235.57 880.3 238.4C881.18 241.23 882.23 244.98 883.5 248C884.77 251.02 885.02 253.58 887.9 256.5C890.78 259.42 896.52 261.87 900.8 265.5C905.08 269.13 908.9 273.82 913.6 278.3C918.3 282.78 923.45 287.9 929 292.4C934.55 296.9 940.92 301.02 946.9 305.3C952.88 309.58 958.92 314.05 964.9 318.1C970.88 322.15 977.25 325.97 982.8 329.6C988.35 333.23 994.35 337.55 998.2 339.9C1002.05 342.25 1001.63 342.77 1005.9 343.7C1010.17 344.63 1016.53 344.22 1023.8 345.5C1031.07 346.78 1040.95 349.47 1049.5 351.4C1058.05 353.33 1066.55 355.3 1075.1 357.1C1083.65 358.9 1092.38 360.67 1100.8 362.2C1109.22 363.73 1118.03 365.7 1125.6 366.3C1133.17 366.9 1137.65 365.58 1146.2 365.8C1154.75 366.02 1165.37 367.13 1176.9 367.6C1188.43 368.07 1202.58 368.6 1215.4 368.6C1228.22 368.6 1243.12 368.12 1253.8 367.6C1264.48 367.08 1271.37 366.18 1279.5 365.5C1287.63 364.82 1297.47 364.57 1302.6 363.5C1307.73 362.43 1307.73 360.93 1310.3 359.1C1312.87 357.27 1316.72 353.6 1318 352.5L1318 0L1208.3 0L1208.3 150L1207.7 216.7L1203.8 226.9L1197.4 239.7L1191 252.6L1188.5 262.6L1173.1 265.5L1169.2 268.7L1146.2 269.4C1142.77 269.18 1133.17 268.78 1125.6 268.1C1118.03 267.42 1109.22 266.58 1100.8 265.3C1092.38 264.02 1083.65 262.35 1075.1 260.4C1066.55 258.45 1058.02 256.37 1049.5 253.6C1040.98 250.83 1030.25 246.23 1024 243.8C1017.75 241.37 1016 240.65 1012 239C1008 237.35 1003.95 235.53 1000 233.9C996.05 232.27 992.35 230.9 988.3 229.2C984.25 227.5 979.42 225.4 975.7 223.7C971.98 222 968.88 220.52 966 219C963.12 217.48 960.77 216.15 958.4 214.6C956.03 213.05 953.87 211.3 951.8 209.7C949.73 208.1 947.97 206.78 946 205C944.03 203.22 942.35 202.07 940 199C937.65 195.93 934.28 190.72 931.9 186.6C929.52 182.48 927.55 178.4 925.7 174.3C923.85 170.2 922.52 166.1 920.8 162C919.08 157.9 916.83 153.82 915.4 149.7C913.97 145.58 913.23 141.17 912.2 137.3C911.17 133.43 909.92 132.12 909.2 126.5C908.48 120.88 908.43 111.52 907.9 103.6C907.37 95.68 906.62 87.22 906 79C905.38 70.78 904.67 62.52 904.2 54.3C903.73 46.08 903.4 36.88 903.2 29.7C903 22.52 903.03 16.15 903 11.2C902.97 6.25 903 1.87 903 0Z" fill="#EE3377" fill-opacity="0.5"/>
<path d="M866 -12.6C867 -9.73 870 -0.57 872 4.6C874 9.77 876 14.22 878 18.4C880 22.58 882 26.2 884 29.7C886 33.2 888 36.37 890 39.4C892 42.43 894 45.23 896 47.9C898 50.57 900 53.03 902 55.4C904 57.77 906 59.97 908 62.1C910 64.23 912 66.27 914 68.2C916 70.13 918 71.93 920 73.7C922 75.47 924 77.17 926 78.8C928 80.43 930 81.98 932 83.5C934 85.02 936 86.48 938 87.9C940 89.32 942 90.68 944 92C946 93.32 948 94.58 950 95.8C952 97.02 954 98.15 956 99.3C958 100.45 960 101.6 962 102.7C964 103.8 966 104.87 968 105.9C970 106.93 972 107.93 974 108.9C976 109.87 978 110.77 980 111.7C982 112.63 984 113.62 986 114.5C988 115.38 990 116.17 992 117C994 117.83 996 118.7 998 119.5C1000 120.3 1002 121.05 1004 121.8C1006 122.55 1008 123.28 1010 124C1012 124.72 1014 125.4 1016 126.1C1018 126.8 1020 127.53 1022 128.2C1024 128.87 1026 129.48 1028 130.1C1030 130.72 1032 131.3 1034 131.9C1036 132.5 1038 133.12 1040 133.7C1042 134.28 1044 134.85 1046 135.4C1048 135.95 1050 136.47 1052 137C1054 137.53 1056 138.08 1058 138.6C1060 139.12 1062 139.62 1064 140.1C1066 140.58 1068 141.05 1070 141.5C1072 141.95 1074 142.37 1076 142.8C1078 143.23 1080 143.67 1082 144.1C1084 144.53 1086 144.98 1088 145.4C1090 145.82 1092 146.22 1094 146.6C1096 146.98 1098 147.33 1100 147.7C1102 148.07 1104 148.45 1106 148.8C1108 149.15 1110 149.47 1112 149.8C1114 150.13 1116 150.48 1118 150.8C1120 151.12 1122 151.4 1124 151.7C1126 152 1128 152.3 1130 152.6C1132 152.9 1134 153.22 1136 153.5C1138 153.78 1140 154.05 1142 154.3C1144 154.55 1146 154.77 1148 155C1150 155.23 1152 155.47 1154 155.7C1156 155.93 1158 156.18 1160 156.4C1162 156.62 1164 156.8 1166 157C1168 157.2 1170 157.4 1172 157.6C1174 157.8 1176 158.02 1178 158.2C1180 158.38 1182 158.55 1184 158.7C1186 158.85 1188 158.97 1190 159.1C1192 159.23 1194 159.37 1196 159.5C1198 159.63 1200 159.77 1202 159.9C1204 160.03 1206 160.18 1208 160.3C1210 160.42 1212 160.52 1214 160.6C1216 160.68 1218 160.72 1220 160.8C1222 160.88 1224 161.03 1226 161.1C1228 161.17 1230 161.15 1232 161.2C1234 161.25 1236 161.35 1238 161.4C1240 161.45 1242 161.48 1244 161.5C1246 161.52 1248 161.5 1250 161.5C1252 161.5 1254 161.5 1256 161.5C1258 161.5 1260 161.52 1262 161.5C1264 161.48 1266 161.43 1268 161.4C1270 161.37 1272 161.33 1274 161.3C1276 161.27 1278 161.27 1280 161.2C1282 161.13 1284 160.98 1286 160.9C1288 160.82 1290 160.78 1292 160.7C1294 160.62 1296 160.52 1298 160.4C1300 160.28 1302 160.13 1304 160C1306 159.87 1307.67 159.77 1310 159.6C1312.33 159.43 1316.67 159.1 1318 159" fill="none" stroke="#004488" stroke-width="3" stroke-linejoin="round"/>
<path d="M864.6 0L865 11.2L866 29.7L868 54.3L870.5 79L872.4 91.3L874.2 103.6L876.9 125L880.1 137.3L883.8 149.7L887.5 162L891.2 174.3L893.7 181.7L902.3 199L910.9 211.3L920.1 223.6L931.5 233.9L939 241.8L947.3 250.5L955 257L963.1 263.1L978.9 271.2L998.2 279.6L1023.8 289.1L1049.5 296.8L1075.1 302.7L1100.8 306.3L1125.6 310.4L1138.5 310.9L1146.2 310.4L1176.9 312.2L1200 311.2L1205.1 306.5L1228.2 300.1L1253.8 295L1279.5 290.6L1297.4 287.3L1318 281.4" fill="none" stroke="#EE3377" stroke-width="2.7" stroke-linejoin="round"/>
</g>
<rect x="1199.7" y="19.1" width="108.5" height="56.8" rx="3" fill="#fff" fill-opacity="0.26" stroke="#ccc" stroke-opacity="0.4" stroke-width="1.2"/>
<line x1="1206.6" y1="33.1" x2="1245" y2="33.1" stroke="#004488" stroke-width="2.5" stroke-linecap="butt" />
<line x1="1206.6" y1="58.6" x2="1245" y2="58.6" stroke="#EE3377" stroke-width="2.5" stroke-linecap="butt" />
<text x="1259.6" y="39.4" font-family="'Liberation Sans', 'DejaVu Sans', sans-serif" font-size="16.4" fill="#111" text-anchor="start" textLength="39.6" lengthAdjust="spacingAndGlyphs" >Larva</text>
<text x="1259.6" y="64.9" font-family="'Liberation Sans', 'DejaVu Sans', sans-serif" font-size="16.4" fill="#111" text-anchor="start" textLength="37.4" lengthAdjust="spacingAndGlyphs" >Pupa</text>
<rect x="761.3" y="10.4" width="555.2" height="361" fill="none" stroke="#262626" stroke-width="2.0"/>
<line x1="751.1" y1="10.4" x2="761.3" y2="10.4" stroke="#262626" stroke-width="2.2" stroke-linecap="butt" />
<text x="745" y="17.8" font-family="'Liberation Sans', 'DejaVu Sans', sans-serif" font-size="20.3" fill="#111" text-anchor="end" >100</text>
<line x1="751.1" y1="57.63" x2="761.3" y2="57.63" stroke="#262626" stroke-width="2.2" stroke-linecap="butt" />
<text x="745" y="65.03" font-family="'Liberation Sans', 'DejaVu Sans', sans-serif" font-size="20.3" fill="#111" text-anchor="end" >50</text>
<line x1="751.1" y1="167.29" x2="761.3" y2="167.29" stroke="#262626" stroke-width="2.2" stroke-linecap="butt" />
<text x="745" y="174.69" font-family="'Liberation Sans', 'DejaVu Sans', sans-serif" font-size="20.3" fill="#111" text-anchor="end" >10</text>
<line x1="751.1" y1="214.51" x2="761.3" y2="214.51" stroke="#262626" stroke-width="2.2" stroke-linecap="butt" />
<text x="745" y="221.91" font-family="'Liberation Sans', 'DejaVu Sans', sans-serif" font-size="20.3" fill="#111" text-anchor="end" >5</text>
<line x1="751.1" y1="324.17" x2="761.3" y2="324.17" stroke="#262626" stroke-width="2.2" stroke-linecap="butt" />
<text x="745" y="331.57" font-family="'Liberation Sans', 'DejaVu Sans', sans-serif" font-size="20.3" fill="#111" text-anchor="end" >1</text>
<line x1="751.1" y1="371.4" x2="761.3" y2="371.4" stroke="#262626" stroke-width="2.2" stroke-linecap="butt" />
<text x="745" y="378.8" font-family="'Liberation Sans', 'DejaVu Sans', sans-serif" font-size="20.3" fill="#111" text-anchor="end" >0.5</text>
<line x1="754.3" y1="17.58" x2="761.3" y2="17.58" stroke="#262626" stroke-width="1.7" stroke-linecap="butt" />
<line x1="754.3" y1="25.6" x2="761.3" y2="25.6" stroke="#262626" stroke-width="1.7" stroke-linecap="butt" />
<line x1="754.3" y1="34.7" x2="761.3" y2="34.7" stroke="#262626" stroke-width="1.7" stroke-linecap="butt" />
<line x1="754.3" y1="45.21" x2="761.3" y2="45.21" stroke="#262626" stroke-width="1.7" stroke-linecap="butt" />
<line x1="754.3" y1="72.83" x2="761.3" y2="72.83" stroke="#262626" stroke-width="1.7" stroke-linecap="butt" />
<line x1="754.3" y1="92.43" x2="761.3" y2="92.43" stroke="#262626" stroke-width="1.7" stroke-linecap="butt" />
<line x1="754.3" y1="120.06" x2="761.3" y2="120.06" stroke="#262626" stroke-width="1.7" stroke-linecap="butt" />
<line x1="754.3" y1="174.46" x2="761.3" y2="174.46" stroke="#262626" stroke-width="1.7" stroke-linecap="butt" />
<line x1="754.3" y1="182.49" x2="761.3" y2="182.49" stroke="#262626" stroke-width="1.7" stroke-linecap="butt" />
<line x1="754.3" y1="191.59" x2="761.3" y2="191.59" stroke="#262626" stroke-width="1.7" stroke-linecap="butt" />
<line x1="754.3" y1="202.09" x2="761.3" y2="202.09" stroke="#262626" stroke-width="1.7" stroke-linecap="butt" />
<line x1="754.3" y1="229.72" x2="761.3" y2="229.72" stroke="#262626" stroke-width="1.7" stroke-linecap="butt" />
<line x1="754.3" y1="249.32" x2="761.3" y2="249.32" stroke="#262626" stroke-width="1.7" stroke-linecap="butt" />
<line x1="754.3" y1="276.95" x2="761.3" y2="276.95" stroke="#262626" stroke-width="1.7" stroke-linecap="butt" />
<line x1="754.3" y1="331.35" x2="761.3" y2="331.35" stroke="#262626" stroke-width="1.7" stroke-linecap="butt" />
<line x1="754.3" y1="339.38" x2="761.3" y2="339.38" stroke="#262626" stroke-width="1.7" stroke-linecap="butt" />
<line x1="754.3" y1="348.47" x2="761.3" y2="348.47" stroke="#262626" stroke-width="1.7" stroke-linecap="butt" />
<line x1="754.3" y1="358.98" x2="761.3" y2="358.98" stroke="#262626" stroke-width="1.7" stroke-linecap="butt" />
<line x1="761.3" y1="371.4" x2="761.3" y2="381.4" stroke="#262626" stroke-width="2.2" stroke-linecap="butt" />
<text x="761.3" y="403.2" font-family="'Liberation Serif', 'DejaVu Serif', serif" font-size="22.6" fill="#111" text-anchor="middle" textLength="10.9" lengthAdjust="spacingAndGlyphs" stroke="#111" stroke-width="0.3">5</text>
<line x1="840.61" y1="371.4" x2="840.61" y2="381.4" stroke="#262626" stroke-width="2.2" stroke-linecap="butt" />
<text x="840.61" y="403.2" font-family="'Liberation Serif', 'DejaVu Serif', serif" font-size="22.6" fill="#111" text-anchor="middle" textLength="21.8" lengthAdjust="spacingAndGlyphs" stroke="#111" stroke-width="0.3">10</text>
<line x1="919.93" y1="371.4" x2="919.93" y2="381.4" stroke="#262626" stroke-width="2.2" stroke-linecap="butt" />
<text x="919.93" y="403.2" font-family="'Liberation Serif', 'DejaVu Serif', serif" font-size="22.6" fill="#111" text-anchor="middle" textLength="21.8" lengthAdjust="spacingAndGlyphs" stroke="#111" stroke-width="0.3">15</text>
<line x1="999.24" y1="371.4" x2="999.24" y2="381.4" stroke="#262626" stroke-width="2.2" stroke-linecap="butt" />
<text x="999.24" y="403.2" font-family="'Liberation Serif', 'DejaVu Serif', serif" font-size="22.6" fill="#111" text-anchor="middle" textLength="21.8" lengthAdjust="spacingAndGlyphs" stroke="#111" stroke-width="0.3">20</text>
<line x1="1078.56" y1="371.4" x2="1078.56" y2="381.4" stroke="#262626" stroke-width="2.2" stroke-linecap="butt" />
<text x="1078.56" y="403.2" font-family="'Liberation Serif', 'DejaVu Serif', serif" font-size="22.6" fill="#111" text-anchor="middle" textLength="21.8" lengthAdjust="spacingAndGlyphs" stroke="#111" stroke-width="0.3">25</text>
<line x1="1157.87" y1="371.4" x2="1157.87" y2="381.4" stroke="#262626" stroke-width="2.2" stroke-linecap="butt" />
<text x="1157.87" y="403.2" font-family="'Liberation Serif', 'DejaVu Serif', serif" font-size="22.6" fill="#111" text-anchor="middle" textLength="21.8" lengthAdjust="spacingAndGlyphs" stroke="#111" stroke-width="0.3">30</text>
<line x1="1237.19" y1="371.4" x2="1237.19" y2="381.4" stroke="#262626" stroke-width="2.2" stroke-linecap="butt" />
<text x="1237.19" y="403.2" font-family="'Liberation Serif', 'DejaVu Serif', serif" font-size="22.6" fill="#111" text-anchor="middle" textLength="21.8" lengthAdjust="spacingAndGlyphs" stroke="#111" stroke-width="0.3">35</text>
<line x1="1316.5" y1="371.4" x2="1316.5" y2="381.4" stroke="#262626" stroke-width="2.2" stroke-linecap="butt" />
<text x="1316.5" y="403.2" font-family="'Liberation Serif', 'DejaVu Serif', serif" font-size="22.6" fill="#111" text-anchor="middle" textLength="21.8" lengthAdjust="spacingAndGlyphs" stroke="#111" stroke-width="0.3">40</text>
<text x="956.4" y="431.4" font-family="'Liberation Sans', 'DejaVu Sans', sans-serif" font-size="21.3" fill="#111" text-anchor="start" textLength="164.8" lengthAdjust="spacingAndGlyphs" >Temperature (°C)</text>
<text transform="rotate(-90 698.6 283.2)" x="698.6" y="283.2" font-family="'Liberation Sans', 'DejaVu Sans', sans-serif" font-size="21.3" fill="#111" textLength="187.2" lengthAdjust="spacingAndGlyphs">Dev. time (<tspan font-family="'Liberation Serif', 'DejaVu Serif', serif" font-style="italic" font-size="23">μ</tspan>, days)</text>
</g>
<g id="panelC">
<clipPath id="clipC"><rect x="1437.8" y="6.9" width="559.6" height="364.2"/></clipPath>
<g clip-path="url(#clipC)">
<path d="M1436 111C1436.43 112.17 1435.48 108.07 1438.6 118C1441.72 127.93 1449.97 156.28 1454.7 170.6C1459.43 184.92 1462.9 193.63 1467 203.9C1471.1 214.17 1476.05 224.93 1479.3 232.2C1482.55 239.47 1484.03 242.38 1486.5 247.5C1488.97 252.62 1490.7 256.9 1494.1 262.9C1497.5 268.9 1502.63 277.08 1506.9 283.5C1511.17 289.92 1515.42 295.85 1519.7 301.4C1523.98 306.95 1528.32 312.1 1532.6 316.8C1536.88 321.5 1541.13 325.97 1545.4 329.6C1549.67 333.23 1553.93 336.03 1558.2 338.6C1562.47 341.17 1566.73 343.2 1571 345C1575.27 346.8 1579.52 348.25 1583.8 349.4C1588.08 350.55 1592.42 351.22 1596.7 351.9C1600.98 352.58 1603.1 353.03 1609.5 353.5C1615.9 353.97 1625.02 354.47 1635.1 354.7C1645.18 354.93 1659.92 354.92 1670 354.9C1680.08 354.88 1687.05 354.8 1695.6 354.6C1704.15 354.4 1712.9 354.2 1721.3 353.7C1729.7 353.2 1740.88 352.05 1746 351.6C1751.12 351.15 1750 351.22 1752 351C1754 350.78 1756 350.57 1758 350.3C1760 350.03 1762 349.72 1764 349.4C1766 349.08 1768 348.77 1770 348.4C1772 348.03 1774 347.63 1776 347.2C1778 346.77 1780 346.28 1782 345.8C1784 345.32 1786 344.85 1788 344.3C1790 343.75 1792 343.15 1794 342.5C1796 341.85 1798 341.13 1800 340.4C1802 339.67 1804 338.93 1806 338.1C1808 337.27 1810 336.35 1812 335.4C1814 334.45 1816 333.47 1818 332.4C1820 331.33 1822 330.22 1824 329C1826 327.78 1828 326.47 1830 325.1C1832 323.73 1834 322.32 1836 320.8C1838 319.28 1840 317.7 1842 316C1844 314.3 1846 312.48 1848 310.6C1850 308.72 1852 306.78 1854 304.7C1856 302.62 1858 300.42 1860 298.1C1862 295.78 1864 293.33 1866 290.8C1868 288.27 1870 285.68 1872 282.9C1874 280.12 1876 277.15 1878 274.1C1880 271.05 1882 267.9 1884 264.6C1886 261.3 1888 257.88 1890 254.3C1892 250.72 1894 246.98 1896 243.1C1898 239.22 1900 235.17 1902 231C1904 226.83 1906 222.57 1908 218.1C1910 213.63 1912 208.98 1914 204.2C1916 199.42 1918 194.48 1920 189.4C1922 184.32 1924 179.08 1926 173.7C1928 168.32 1930 162.78 1932 157.1C1934 151.42 1936 145.57 1938 139.6C1940 133.63 1942 127.53 1944 121.3C1946 115.07 1948 108.7 1950 102.2C1952 95.7 1954 89.05 1956 82.3C1958 75.55 1960 68.67 1962 61.7C1964 54.73 1966 47.65 1968 40.5C1970 33.35 1972 26.12 1974 18.8C1976 11.48 1978 4.05 1980 -3.4C1982 -10.85 1984 -18.35 1986 -25.9C1988 -33.45 1990.33 -42.37 1992 -48.7C1993.67 -55.03 1994.83 -59.47 1996 -63.9C1997.17 -68.33 1998.5 -73.4 1999 -75.3L1999 84.9C1998.5 86.33 1997.17 90.22 1996 93.5C1994.83 96.78 1993.67 100.1 1992 104.6C1990.33 109.1 1988 115.35 1986 120.5C1984 125.65 1982 130.6 1980 135.5C1978 140.4 1976 145.23 1974 149.9C1972 154.57 1970 159.08 1968 163.5C1966 167.92 1964 172.22 1962 176.4C1960 180.58 1958 184.63 1956 188.6C1954 192.57 1952 196.43 1950 200.2C1948 203.97 1946 207.63 1944 211.2C1942 214.77 1940 218.22 1938 221.6C1936 224.98 1934 228.28 1932 231.5C1930 234.72 1928 237.85 1926 240.9C1924 243.95 1922 246.92 1920 249.8C1918 252.68 1916 255.48 1914 258.2C1912 260.92 1910 263.53 1908 266.1C1906 268.67 1904 271.17 1902 273.6C1900 276.03 1898 278.4 1896 280.7C1894 283 1892 285.23 1890 287.4C1888 289.57 1886 291.65 1884 293.7C1882 295.75 1880 297.78 1878 299.7C1876 301.62 1874 303.4 1872 305.2C1870 307 1868 308.8 1866 310.5C1864 312.2 1862 313.83 1860 315.4C1858 316.97 1856 318.43 1854 319.9C1852 321.37 1850 322.83 1848 324.2C1846 325.57 1844 326.83 1842 328.1C1840 329.37 1838 330.62 1836 331.8C1834 332.98 1832 334.12 1830 335.2C1828 336.28 1826 337.32 1824 338.3C1822 339.28 1820 340.22 1818 341.1C1816 341.98 1814 342.8 1812 343.6C1810 344.4 1808 345.18 1806 345.9C1804 346.62 1802 347.27 1800 347.9C1798 348.53 1796 349.15 1794 349.7C1792 350.25 1790 350.73 1788 351.2C1786 351.67 1784 352.12 1782 352.5C1780 352.88 1778 353.2 1776 353.5C1774 353.8 1772 354.08 1770 354.3C1768 354.52 1766 354.65 1764 354.8C1762 354.95 1760 355.13 1758 355.2C1756 355.27 1754 355.22 1752 355.2C1750 355.18 1751.12 354.87 1746 355.1C1740.88 355.33 1729.7 356.28 1721.3 356.6C1712.9 356.92 1704.15 356.92 1695.6 357C1687.05 357.08 1680.08 357.12 1670 357.1C1659.92 357.08 1645.18 357.08 1635.1 356.9C1625.02 356.72 1618.05 356.37 1609.5 356C1600.95 355.63 1592.35 355.25 1583.8 354.7C1575.25 354.15 1566.73 353.55 1558.2 352.7C1549.67 351.85 1541.15 351.1 1532.6 349.6C1524.05 348.1 1514.17 345.75 1506.9 343.7C1499.63 341.65 1494.12 339.43 1489 337.3C1483.88 335.17 1480.48 333.47 1476.2 330.9C1471.92 328.33 1467.58 325.1 1463.3 321.9C1459.02 318.7 1454.55 315.33 1450.5 311.7C1446.45 308.07 1441.42 302.55 1439 300.1C1436.58 297.65 1436.5 297.52 1436 297Z" fill="#004488" fill-opacity="0.5"/>
<path d="M1436 12L1438.6 16.1L1444.8 37.1L1449.7 54.3L1454.7 65.4L1462.1 77.7L1474.4 96.2L1479.3 113.5L1483.5 126.5L1494.1 147.2L1506.4 169.4L1518.8 191.6L1529.9 206.4L1534.8 208.3L1544.6 216.7L1582.9 217.7L1601.3 231L1611.2 232.2L1648.9 232.2L1656.8 240.4L1680 240.9L1777.2 240.9L1790.8 232.2L1847.5 231.5L1852.4 228.6L1854.4 224.1L1862.3 223.6L1870.9 219.4L1884.5 207.6L1899.3 195.3L1906.7 189.6L1918.6 176.5L1930 162.3L1949.3 135.4L1957 127L1964.7 110.3L1974.9 94.9L1982.6 79.5L1992.9 61.6L1997.3 51.3L1999 47.5L1999 352.2L1960 353L1920 354L1887.9 355.3L1862.3 356.5L1823.8 357.1L1780.3 357.8L1754.6 359.6L1721.3 359.6L1680 358.1L1635.1 357.8L1609.5 357.1L1583.8 354.7L1558.2 353.5L1504.4 352.7L1490.3 349.6L1436 349.6Z" fill="#EE3377" fill-opacity="0.5"/>
<path d="M1436 211C1436.43 211.67 1435.97 209.33 1438.6 215C1441.23 220.67 1448.1 237.43 1451.8 245C1455.5 252.57 1457.6 255.27 1460.8 260.4C1464 265.53 1467.58 271.02 1471 275.8C1474.42 280.58 1477.45 284.4 1481.3 289.1C1485.15 293.8 1489.83 299.38 1494.1 304C1498.37 308.62 1502.63 312.87 1506.9 316.8C1511.17 320.73 1515.42 324.4 1519.7 327.6C1523.98 330.8 1528.32 333.53 1532.6 336C1536.88 338.47 1541.13 340.6 1545.4 342.4C1549.67 344.2 1553.93 345.52 1558.2 346.8C1562.47 348.08 1566.73 349.2 1571 350.1C1575.27 351 1577.38 351.43 1583.8 352.2C1590.22 352.97 1600.95 354.1 1609.5 354.7C1618.05 355.3 1625.02 355.58 1635.1 355.8C1645.18 356.02 1659.92 356 1670 356C1680.08 356 1687.05 355.92 1695.6 355.8C1704.15 355.68 1712.9 355.6 1721.3 355.3C1729.7 355 1740.88 354.32 1746 354C1751.12 353.68 1750 353.6 1752 353.4C1754 353.2 1756 353.03 1758 352.8C1760 352.57 1762 352.28 1764 352C1766 351.72 1768 351.42 1770 351.1C1772 350.78 1774 350.45 1776 350.1C1778 349.75 1780 349.42 1782 349C1784 348.58 1786 348.1 1788 347.6C1790 347.1 1792 346.55 1794 346C1796 345.45 1798 344.93 1800 344.3C1802 343.67 1804 342.93 1806 342.2C1808 341.47 1810 340.72 1812 339.9C1814 339.08 1816 338.22 1818 337.3C1820 336.38 1822 335.43 1824 334.4C1826 333.37 1828 332.27 1830 331.1C1832 329.93 1834 328.72 1836 327.4C1838 326.08 1840 324.67 1842 323.2C1844 321.73 1846 320.22 1848 318.6C1850 316.98 1852 315.3 1854 313.5C1856 311.7 1858 309.78 1860 307.8C1862 305.82 1864 303.78 1866 301.6C1868 299.42 1870 297.1 1872 294.7C1874 292.3 1876 289.8 1878 287.2C1880 284.6 1882 281.92 1884 279.1C1886 276.28 1888 273.37 1890 270.3C1892 267.23 1894 264.02 1896 260.7C1898 257.38 1900 253.95 1902 250.4C1904 246.85 1906 243.2 1908 239.4C1910 235.6 1912 231.67 1914 227.6C1916 223.53 1918 219.32 1920 215C1922 210.68 1924 206.27 1926 201.7C1928 197.13 1930 192.4 1932 187.6C1934 182.8 1936 177.93 1938 172.9C1940 167.87 1942 162.67 1944 157.4C1946 152.13 1948 146.78 1950 141.3C1952 135.82 1954 130.18 1956 124.5C1958 118.82 1960 113.03 1962 107.2C1964 101.37 1966 95.48 1968 89.5C1970 83.52 1972 77.42 1974 71.3C1976 65.18 1978 59 1980 52.8C1982 46.6 1984 40.37 1986 34.1C1988 27.83 1990.33 20.45 1992 15.2C1993.67 9.95 1994.83 6.27 1996 2.6C1997.17 -1.07 1998.5 -5.23 1999 -6.8" fill="none" stroke="#004488" stroke-width="3.0" stroke-linejoin="round"/>
<path d="M1436 297L1439 297.1L1458.2 298.1L1471 301.9L1494.1 305.8L1519.7 306.8L1547.9 308.6L1558.2 311.7L1591.5 312.7L1599.2 315.8L1622.3 318.3L1647.9 319.1L1660.8 320.1L1682.8 320.1L1690.5 321.7L1721.3 321.4L1770 321.7L1785.4 319.9L1805.9 317.3L1831.5 312.4L1849.5 311.7L1875.1 309.1L1900.8 307.8L1920 306L1936 304.6L1944 301.5L1960 300.2L1968 298L1980 297L1999 295.2" fill="none" stroke="#EE3377" stroke-width="2.7" stroke-linejoin="round"/>
</g>
<rect x="1446" y="16.1" width="108.5" height="56.8" rx="3" fill="#fff" fill-opacity="0.26" stroke="#ccc" stroke-opacity="0.4" stroke-width="1.2"/>
<line x1="1453.4" y1="29.8" x2="1491.7" y2="29.8" stroke="#004488" stroke-width="2.5" stroke-linecap="butt" />
<line x1="1453.4" y1="56" x2="1491.7" y2="56" stroke="#EE3377" stroke-width="2.5" stroke-linecap="butt" />
<text x="1506.4" y="36.5" font-family="'Liberation Sans', 'DejaVu Sans', sans-serif" font-size="16.4" fill="#111" text-anchor="start" textLength="39.6" lengthAdjust="spacingAndGlyphs" >Larva</text>
<text x="1506.4" y="62.4" font-family="'Liberation Sans', 'DejaVu Sans', sans-serif" font-size="16.4" fill="#111" text-anchor="start" textLength="37.4" lengthAdjust="spacingAndGlyphs" >Pupa</text>
<rect x="1437.8" y="6.9" width="559.6" height="364.2" fill="none" stroke="#262626" stroke-width="2.0"/>
<line x1="1427.6" y1="371.1" x2="1437.8" y2="371.1" stroke="#262626" stroke-width="2.2" stroke-linecap="butt" />
<text x="1420.6" y="378.7" font-family="'Liberation Serif', 'DejaVu Serif', serif" font-size="23.2" fill="#111" text-anchor="end" textLength="28" lengthAdjust="spacingAndGlyphs" stroke="#111" stroke-width="0.3">0.0</text>
<line x1="1427.6" y1="298.26" x2="1437.8" y2="298.26" stroke="#262626" stroke-width="2.2" stroke-linecap="butt" />
<text x="1420.6" y="305.86" font-family="'Liberation Serif', 'DejaVu Serif', serif" font-size="23.2" fill="#111" text-anchor="end" textLength="28" lengthAdjust="spacingAndGlyphs" stroke="#111" stroke-width="0.3">0.1</text>
<line x1="1427.6" y1="225.42" x2="1437.8" y2="225.42" stroke="#262626" stroke-width="2.2" stroke-linecap="butt" />
<text x="1420.6" y="233.02" font-family="'Liberation Serif', 'DejaVu Serif', serif" font-size="23.2" fill="#111" text-anchor="end" textLength="28" lengthAdjust="spacingAndGlyphs" stroke="#111" stroke-width="0.3">0.2</text>
<line x1="1427.6" y1="152.58" x2="1437.8" y2="152.58" stroke="#262626" stroke-width="2.2" stroke-linecap="butt" />
<text x="1420.6" y="160.18" font-family="'Liberation Serif', 'DejaVu Serif', serif" font-size="23.2" fill="#111" text-anchor="end" textLength="28" lengthAdjust="spacingAndGlyphs" stroke="#111" stroke-width="0.3">0.3</text>
<line x1="1427.6" y1="79.74" x2="1437.8" y2="79.74" stroke="#262626" stroke-width="2.2" stroke-linecap="butt" />
<text x="1420.6" y="87.34" font-family="'Liberation Serif', 'DejaVu Serif', serif" font-size="23.2" fill="#111" text-anchor="end" textLength="28" lengthAdjust="spacingAndGlyphs" stroke="#111" stroke-width="0.3">0.4</text>
<line x1="1427.6" y1="6.9" x2="1437.8" y2="6.9" stroke="#262626" stroke-width="2.2" stroke-linecap="butt" />
<text x="1420.6" y="14.5" font-family="'Liberation Serif', 'DejaVu Serif', serif" font-size="23.2" fill="#111" text-anchor="end" textLength="28" lengthAdjust="spacingAndGlyphs" stroke="#111" stroke-width="0.3">0.5</text>
<line x1="1437.8" y1="371.1" x2="1437.8" y2="381.1" stroke="#262626" stroke-width="2.2" stroke-linecap="butt" />
<text x="1437.8" y="403.2" font-family="'Liberation Serif', 'DejaVu Serif', serif" font-size="22.6" fill="#111" text-anchor="middle" textLength="10.9" lengthAdjust="spacingAndGlyphs" stroke="#111" stroke-width="0.3">5</text>
<line x1="1517.74" y1="371.1" x2="1517.74" y2="381.1" stroke="#262626" stroke-width="2.2" stroke-linecap="butt" />
<text x="1517.74" y="403.2" font-family="'Liberation Serif', 'DejaVu Serif', serif" font-size="22.6" fill="#111" text-anchor="middle" textLength="21.8" lengthAdjust="spacingAndGlyphs" stroke="#111" stroke-width="0.3">10</text>
<line x1="1597.69" y1="371.1" x2="1597.69" y2="381.1" stroke="#262626" stroke-width="2.2" stroke-linecap="butt" />
<text x="1597.69" y="403.2" font-family="'Liberation Serif', 'DejaVu Serif', serif" font-size="22.6" fill="#111" text-anchor="middle" textLength="21.8" lengthAdjust="spacingAndGlyphs" stroke="#111" stroke-width="0.3">15</text>
<line x1="1677.63" y1="371.1" x2="1677.63" y2="381.1" stroke="#262626" stroke-width="2.2" stroke-linecap="butt" />
<text x="1677.63" y="403.2" font-family="'Liberation Serif', 'DejaVu Serif', serif" font-size="22.6" fill="#111" text-anchor="middle" textLength="21.8" lengthAdjust="spacingAndGlyphs" stroke="#111" stroke-width="0.3">20</text>
<line x1="1757.57" y1="371.1" x2="1757.57" y2="381.1" stroke="#262626" stroke-width="2.2" stroke-linecap="butt" />
<text x="1757.57" y="403.2" font-family="'Liberation Serif', 'DejaVu Serif', serif" font-size="22.6" fill="#111" text-anchor="middle" textLength="21.8" lengthAdjust="spacingAndGlyphs" stroke="#111" stroke-width="0.3">25</text>
<line x1="1837.51" y1="371.1" x2="1837.51" y2="381.1" stroke="#262626" stroke-width="2.2" stroke-linecap="butt" />
<text x="1837.51" y="403.2" font-family="'Liberation Serif', 'DejaVu Serif', serif" font-size="22.6" fill="#111" text-anchor="middle" textLength="21.8" lengthAdjust="spacingAndGlyphs" stroke="#111" stroke-width="0.3">30</text>
<line x1="1917.46" y1="371.1" x2="1917.46" y2="381.1" stroke="#262626" stroke-width="2.2" stroke-linecap="butt" />
<text x="1917.46" y="403.2" font-family="'Liberation Serif', 'DejaVu Serif', serif" font-size="22.6" fill="#111" text-anchor="middle" textLength="21.8" lengthAdjust="spacingAndGlyphs" stroke="#111" stroke-width="0.3">35</text>
<line x1="1997.4" y1="371.1" x2="1997.4" y2="381.1" stroke="#262626" stroke-width="2.2" stroke-linecap="butt" />
<text x="1997.4" y="403.2" font-family="'Liberation Serif', 'DejaVu Serif', serif" font-size="22.6" fill="#111" text-anchor="middle" textLength="21.8" lengthAdjust="spacingAndGlyphs" stroke="#111" stroke-width="0.3">40</text>
<text x="1634.5" y="431.4" font-family="'Liberation Sans', 'DejaVu Sans', sans-serif" font-size="21.3" fill="#111" text-anchor="start" textLength="165.8" lengthAdjust="spacingAndGlyphs" >Temperature (°C)</text>
<text transform="rotate(-90 1381.4 284.2)" x="1381.4" y="284.2" font-family="'Liberation Sans', 'DejaVu Sans', sans-serif" font-size="21.3" fill="#111" textLength="191" lengthAdjust="spacingAndGlyphs">Daily mortality (<tspan font-family="'Liberation Serif', 'DejaVu Serif', serif" font-style="italic" font-size="23">p</tspan><tspan font-family="'Liberation Serif', 'DejaVu Serif', serif" font-style="italic" font-size="16" dy="4.5">m</tspan><tspan dy="-4.5">)</tspan></text>
</g>
<text x="101.7" y="498.9" font-family="'Liberation Serif', 'DejaVu Serif', serif" font-size="33.3" fill="#000" textLength="35.6" lengthAdjust="spacingAndGlyphs">(a)</text>
<text x="152.1" y="498.9" font-family="'Liberation Serif', 'DejaVu Serif', serif" font-size="33.3" fill="#000" textLength="394.3" lengthAdjust="spacingAndGlyphs">Observations and simulations</text>
<text x="771" y="498.9" font-family="'Liberation Serif', 'DejaVu Serif', serif" font-size="33.3" fill="#000" textLength="35.6" lengthAdjust="spacingAndGlyphs">(b)</text>
<text x="824" y="498.9" font-family="'Liberation Serif', 'DejaVu Serif', serif" font-size="33.3" fill="#000" textLength="413.5" lengthAdjust="spacingAndGlyphs">Mean development time (days)</text>
<text x="1490.9" y="498.9" font-family="'Liberation Serif', 'DejaVu Serif', serif" font-size="33.3" fill="#000" textLength="35.6" lengthAdjust="spacingAndGlyphs">(c)</text>
<text x="1541.8" y="498.9" font-family="'Liberation Serif', 'DejaVu Serif', serif" font-size="33.3" fill="#000" textLength="338.5" lengthAdjust="spacingAndGlyphs">Daily mortality (fraction)</text>
</svg>
</body></html>
